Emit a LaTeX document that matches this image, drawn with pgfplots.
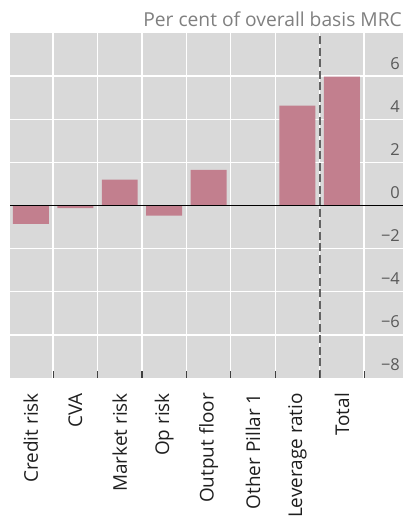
\documentclass[border=0pt]{standalone}
\usepackage{fontspec}
\setmainfont{Open Sans}
\usepackage{pgfplots}
\pgfplotsset{compat=1.18}
\definecolor{barc}{HTML}{C27F8E}
\definecolor{bg}{HTML}{D9D9D9}
\definecolor{ticklab}{HTML}{595959}
\definecolor{titlec}{HTML}{7F7F7F}
\definecolor{dashc}{HTML}{636363}
\begin{document}
\begin{tikzpicture}[x=1bp,y=1bp]
\useasboundingbox (0,0) rectangle (403,517);
\begin{axis}[
  at={(10bp,139bp)}, anchor=south west,
  scale only axis, width=393bp, height=345bp,
  xmin=-0.47, xmax=8.375, ymin=-8, ymax=8,
  axis background/.style={fill=bg},
  axis line style={draw=none},
  xtick={0,...,7},
  xticklabels={Credit risk, CVA, Market risk, Op risk, Output floor, Other Pillar 1, Leverage ratio, Total},
  minor xtick={0.5,1.5,...,7.5},
  xminorgrids, ymajorgrids,
  minor grid style={white, line width=1.3bp},
  major grid style={white, line width=1.3bp},
  ytick={-6,-4,...,6},
  yticklabels={−6,−4,−2,0,2,4,6},
  extra y ticks={-8}, extra y tick labels={−8},
  extra y tick style={grid=none},
  yticklabel pos=right,
  major tick length=0pt, minor tick length=0pt,
  xtick pos=bottom,
  yticklabel style={anchor=base east, inner sep=0pt, xshift=-3bp, yshift=7bp, text=ticklab, font=\fontsize{16.5}{18}\selectfont},
  xticklabel style={yshift=-15bp, rotate=90, anchor=east, inner sep=0pt, text=black!88, font=\fontsize{19}{21}\selectfont},
  ybar, bar width=0.81,
]
\addplot[fill=barc, draw=none] coordinates {(0,-0.85) (1,-0.12) (2,1.2) (3,-0.47) (4,1.65) (5,0) (6,4.63) (7,5.98)};
\draw[black, line width=1bp] (axis cs:-0.47,0) -- (axis cs:8.375,0);
\draw[dashc, line width=1.8bp, dash pattern=on 8bp off 3.5bp] (axis cs:6.5,-8) -- (axis cs:6.5,8);
\pgfplotsinvokeforeach{0.5,1.5,...,7.5}{
  \draw[black!75, line width=1.2bp] (axis cs:#1,-8) -- ([yshift=7bp]axis cs:#1,-8);
}
\end{axis}
\node[anchor=base east, inner sep=0pt, text=titlec, font=\fontsize{19.3}{21}\selectfont] at (402,490) {Per cent of overall basis MRC};
\end{tikzpicture}
\end{document}
